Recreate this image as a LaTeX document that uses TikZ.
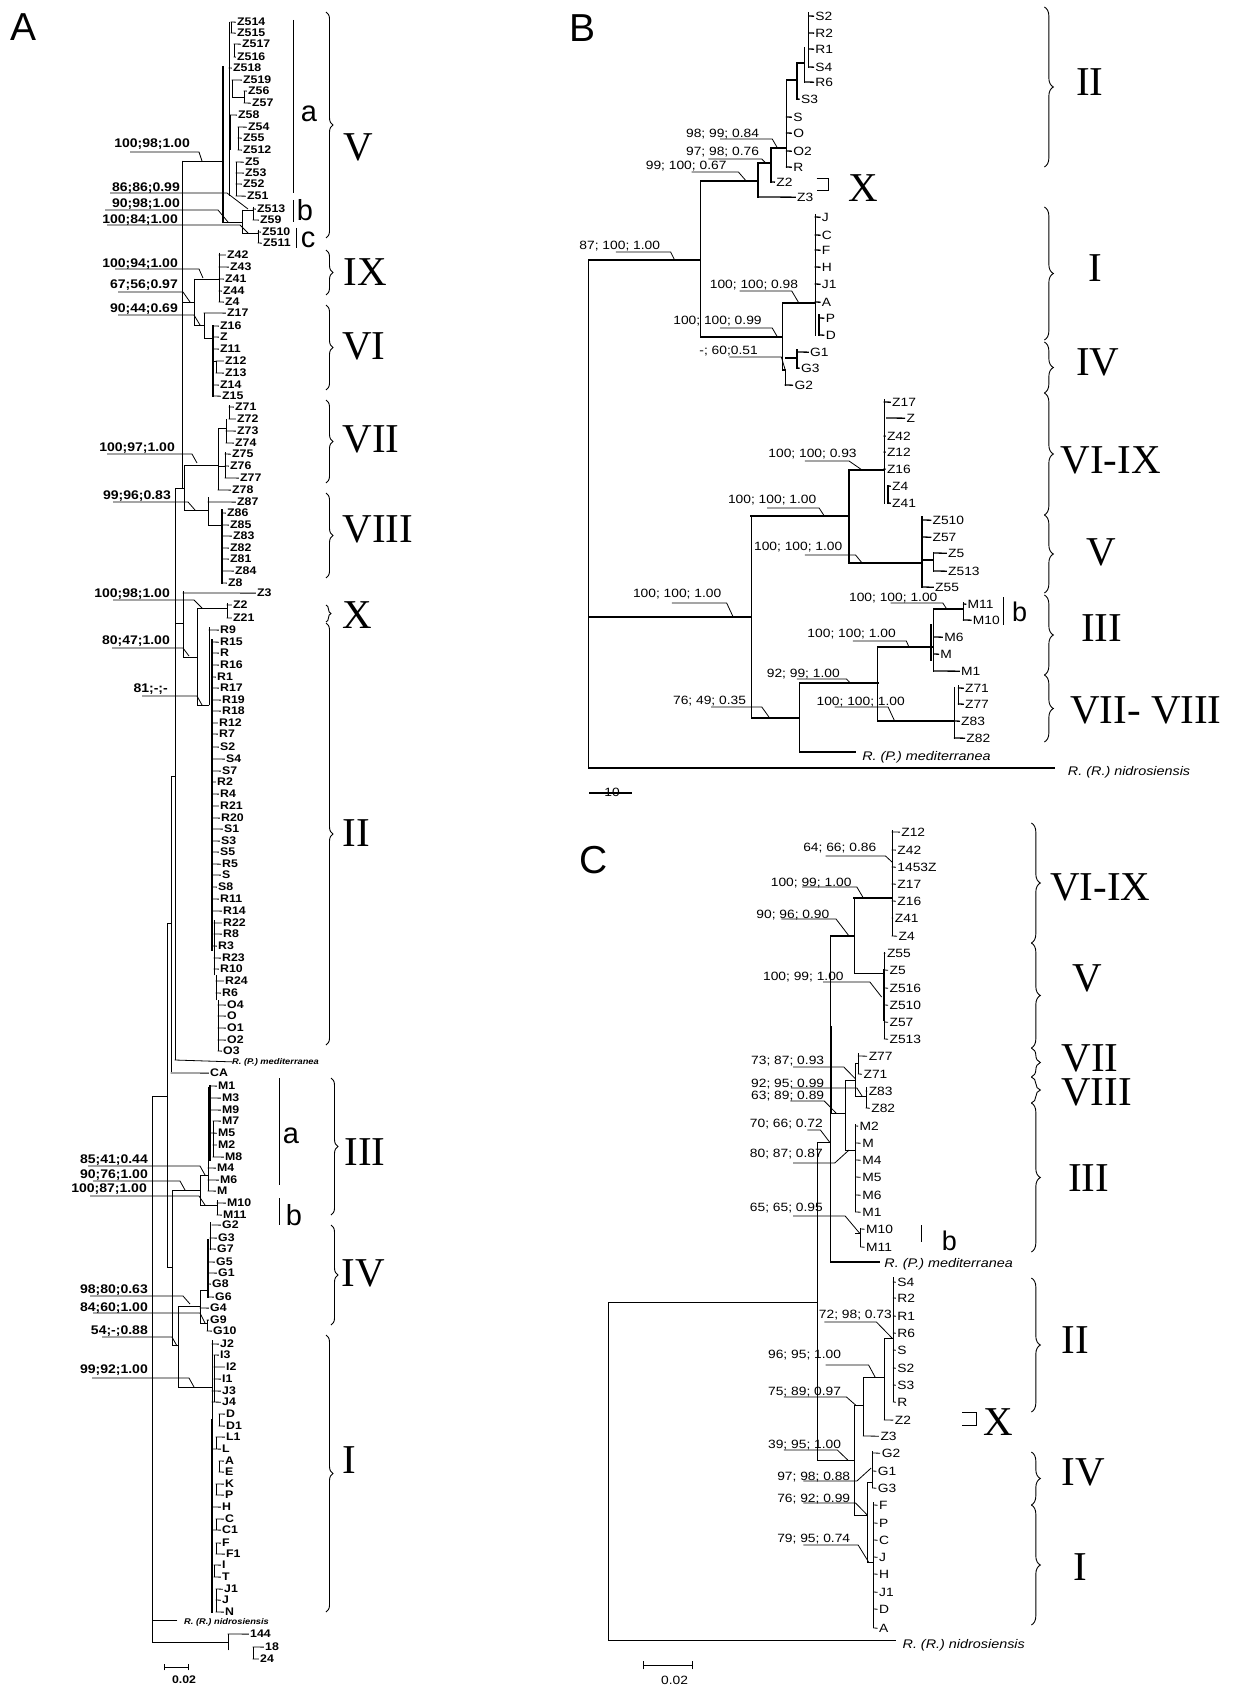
\documentclass[tikz,border=0pt]{standalone}
\usepackage{fontspec}
\setmainfont{Liberation Serif}
\setsansfont{Liberation Sans}
\newfontfamily\tipsansA[FakeStretch=1.12]{Liberation Sans}
\newfontfamily\sansBC[FakeStretch=1.15]{Liberation Sans}
\usetikzlibrary{decorations.pathreplacing}

\begin{document}
\begin{tikzpicture}[x=1pt, y=-1pt,
    br/.style={line width=0.8pt, line cap=rect},
    brB/.style={line width=1.3pt, line cap=rect},
    thk/.style={line width=1.9pt, line cap=rect},
    lead/.style={line width=0.8pt},
    brc/.style={decorate, decoration={brace, amplitude=#1}, line width=0.9pt},
    brc/.default=8pt,
    tipA/.style={font=\tipsansA\bfseries\fontsize{11}{12}\selectfont, anchor=base west, inner sep=0pt, yshift=-3.9pt},
    bootA/.style={font=\tipsansA\bfseries\fontsize{12.5}{14}\selectfont, anchor=base east, inner sep=0pt, yshift=-4.4pt},
    spA/.style={font=\tipsansA\bfseries\itshape\fontsize{8.3}{10}\selectfont, anchor=base west, inner sep=0pt, yshift=-3pt},
    tipB/.style={font=\sansBC\fontsize{12}{14}\selectfont, anchor=base west, inner sep=0pt, yshift=-4.3pt},
    bootB/.style={font=\sansBC\fontsize{12}{13}\selectfont, anchor=base east, inner sep=0pt, yshift=-4.2pt},
    spB/.style={font=\sansBC\itshape\fontsize{12.5}{14}\selectfont, anchor=base west, inner sep=0pt, yshift=-4.4pt},
    numA/.style={font=\fontsize{41}{41}\selectfont, inner sep=0pt},
    panel/.style={font=\sffamily\fontsize{39}{39}\selectfont, inner sep=0pt},
    sublet/.style={font=\sffamily\fontsize{29}{29}\selectfont, inner sep=0pt},
    sublet2/.style={font=\sffamily\fontsize{27}{27}\selectfont, inner sep=0pt},
    % panels B and C are measured on a squeezed grid, stretched back here
    panelBC/.style={shift={(560,0)}, xscale=1.302, shift={(-560,0)}},
]
    \useasboundingbox (0,0) rectangle (1240,1685);

    %%%%%%%%%%%%%%%% Panel A %%%%%%%%%%%%%%%%
    \node[panel] (pA) at (24,27) {A};

    % tips
    \foreach \tip/\xp/\xl/\y in {
        Z514/231/237/22, Z515/231/237/33, Z517/234/242/44, Z516/234/237/57, Z518/229/233/68,
        Z519/232/243/80, Z56/244/248/91, Z57/244/252/103, Z58/230/238/115, Z54/238/248/127,
        Z55/238/243/138, Z512/238/243/150, Z5/236/245/162, Z53/236/245/173, Z52/236/243/184,
        Z51/236/247/196, Z513/253/257/209, Z59/253/260/220, Z510/258/262/232, Z511/258/263/243,
        Z42/219/227/255, Z43/219/230/267, Z41/219/225/279, Z44/219/223/291, Z4/219/225/302,
        Z17/204/227/313, Z16/213/220/326, Z/213/220/337, Z11/213/220/349, Z12/216/225/361,
        Z13/216/225/373, Z14/213/220/385, Z15/213/222/396,
        Z71/229/235/407, Z72/229/237/419, Z73/226/237/431, Z74/226/235/443, Z75/225/232/454,
        Z76/225/230/466, Z77/225/240/478, Z78/218/232/490,
        Z87/208/237/502, Z86/222/227/513, Z85/222/230/525, Z83/222/233/536, Z82/222/230/548,
        Z81/222/230/559, Z84/222/235/571, Z8/222/228/583,
        Z3/183/257/593, Z2/227/233/605, Z21/227/233/618,
        R9/209/220/630, R15/212/220/642, R/212/220/653, R16/212/220/665, R1/212/217/677,
        R17/212/220/688, R19/212/222/700, R18/212/222/711, R12/212/219/723, R7/212/219/734,
        S2/213/220/747, S4/213/226/759, S7/213/222/771, R2/212/217/782, R4/212/220/794,
        R21/212/220/806, R20/212/221/818, S1/213/224/829, S3/213/221/841, S5/213/220/852,
        R5/213/222/864, S/213/222/875, S8/213/218/887, R11/213/220/899, R14/213/223/911,
        R22/214/223/923, R8/214/223/934, R3/213/218/946, R23/214/222/958, R10/214/220/969,
        R24/216/225/981, R6/216/222/993, O4/218/227/1005, O/218/227/1016, O1/218/227/1028,
        O2/218/227/1040, O3/218/223/1051,
        CA/171/210/1073,
        M1/210/218/1086, M3/210/222/1098, M9/210/222/1110, M7/213/222/1121, M5/210/218/1133,
        M2/213/218/1145, M8/213/225/1157, M4/208/217/1168, M6/208/220/1180, M/208/217/1191,
        M10/217/227/1203, M11/217/223/1215,
        G2/212/222/1225, G3/210/218/1238, G7/210/217/1249, G5/208/216/1262, G1/208/218/1273,
        G8/208/212/1284, G6/208/215/1297, G4/200/210/1308, G9/207/210/1320, G10/207/213/1331,
        J2/212/220/1344, I3/214/220/1355, I2/214/226/1367, I1/214/222/1379, J3/212/222/1391,
        J4/212/222/1402, D/219/226/1414, D1/219/226/1426, L1/216/226/1437, L/212/222/1449,
        A/219/225/1461, E/219/225/1472, K/216/225/1484, P/216/225/1495, H/213/222/1507,
        C/216/225/1519, C1/213/222/1530, F/216/222/1543, F1/216/226/1554, I/214/222/1565,
        T/214/222/1577, J1/216/224/1589, J/216/222/1600, N/216/225/1612,
        144/228/250/1634, 18/253/265/1647, 24/253/260/1659} {
        \node[tipA] (A-\tip) at (\xl,\y) {\tip};
        \draw[br] (\xp,\y) -- ([xshift=-1.5pt]A-\tip.west);
    }

    % vertical branches
    \foreach \x/\ya/\yb in {
        229/22/196, 231/22/33, 234/44/57, 232/80/97, 244/91/103, 230/115/150, 238/127/150,
        236/162/196, 242/210/233, 253/207/220, 258/230/243,
        219/253/302, 194/279/325, 204/313/338, 216/361/373,
        218/428/490, 229/405/419, 226/419/443, 225/452/478, 184/465/510, 208/497/525,
        182/161/488, 175/488/1060, 183/591/657, 197/608/705, 227/603/618, 171/776/1072,
        167/923/1267, 152/1096/1642, 172/1190/1345,
        209/627/705, 214/920/975, 216/975/1000, 218/1000/1051,
        200/1175/1205, 208/1087/1191, 213/1121/1157, 217/1200/1215,
        178/1306/1387, 200/1290/1323, 210/1222/1250, 207/1320/1331,
        212/1340/1612, 214/1355/1402, 219/1414/1426, 216/1437/1449, 219/1461/1472,
        216/1484/1495, 216/1519/1530, 216/1543/1554, 214/1565/1577, 216/1589/1612,
        228/1634/1650, 253/1647/1659}
        \draw[br] (\x,\ya) -- (\x,\yb);
    \foreach \x/\ya/\yb in {223/67/222, 213/326/396, 222/510/583, 212/640/950,
        210/1086/1160, 208/1240/1297, 212/1420/1612}
        \draw[thk] (\x,\ya) -- (\x,\yb);

    % horizontal branches
    \foreach \y/\xa/\xb in {
        161/182/223, 222/223/242, 210/242/253, 233/242/258, 97/232/244,
        279/194/219, 302/182/194, 325/194/204, 338/204/213, 361/213/216,
        465/184/218, 510/184/208, 525/208/222, 488/175/184, 428/218/226, 466/218/225,
        623/175/183, 657/183/197, 608/197/227, 705/197/209, 776/171/175, 923/167/171,
        1096/152/167, 1190/172/200, 1175/200/208, 1205/200/217, 1267/167/172,
        1345/172/178, 1306/178/200, 1290/200/208, 1323/200/207, 1387/178/212,
        1642/152/228}
        \draw[br] (\xa,\y) -- (\xb,\y);

    % outgroups
    \node[spA] (A-med) at (232,1061) {R. (P.) mediterranea};
    \draw[br] (175,1060) -- (A-med.west);
    \node[spA] (A-nid) at (184,1621) {R. (R.) nidrosiensis};
    \draw[br] (152,1620) -- (177,1620);

    % support values
    \foreach \txt/\tx/\ty/\ua/\ub/\uy/\nx/\ny [count=\i] in {
        100;98;1.00/190/143/130/199/152/202/161,
        86;86;0.99/180/187/110/227/193/248/209,
        90;98;1.00/180/203/105/218/210/228/222,
        100;84;1.00/178/219/107/240/225/248/233,
        100;94;1.00/178/263/115/199/269/203/278,
        67;56;0.97/178/284/118/183/292/190/302,
        90;44;0.69/178/308/118/194/315/200/325,
        100;97;1.00/175/447/107/192/454/197/463,
        99;96;0.83/171/495/113/188/502/195/510,
        100;98;1.00/170/593/113/194/600/202/608,
        80;47;1.00/170/640/112/183/648/189/656,
        81;-;-/168/688/142/197/696/202/705,
        85;41;0.44/148/1159/88/200/1166/205/1175,
        90;76;1.00/148/1174/93/180/1181/185/1190,
        100;87;1.00/147/1188/90/199/1196/205/1205,
        98;80;0.63/148/1289/90/183/1296/190/1304,
        84;60;1.00/148/1307/93/200/1313/205/1323,
        54;-;0.88/148/1330/102/172/1337/177/1346,
        99;92;1.00/148/1369/92/189/1378/194/1387} {
        \node[bootA] (bA\i) at (\tx,\ty) {\txt};
        \draw[lead] (\ua,\uy) -- (\ub,\uy) -- (\nx,\ny);
    }

    % clade braces
    \foreach \ya/\yb/\x in {12/238/326, 250/295/326, 305/390/326, 400/483/326, 493/578/326,
        623/1045/326, 1078/1215/331, 1225/1325/331, 1335/1612/326}
        \draw[brc=7pt] (\x,\ya) -- (\x,\yb);
    \draw[brc=5pt] (326,605) -- (326,622);
    \foreach \lab/\x/\y in {V/358/147, IX/365/272, VI/364/346, VII/371/439, VIII/378/529,
        X/357/615, II/356/833, III/365/1152, IV/363/1273, I/349/1460}
        \node[numA] (nA-\lab) at (\x,\y) {\lab};

    % subclade bars
    \draw[line width=1pt] (293,20) -- (293,193);
    \draw[line width=1pt] (293,200) -- (293,222);
    \draw[line width=1pt] (296,228) -- (296,248);
    \draw[line width=1pt] (279,1078) -- (279,1185);
    \draw[line width=1pt] (279,1198) -- (279,1225);
    \node[sublet] (sa1) at (309,114) {a};
    \node[sublet] (sb1) at (305,210) {b};
    \node[sublet] (sc1) at (308,240) {c};
    \node[sublet] (sa2) at (291,1136) {a};
    \node[sublet] (sb2) at (294,1215) {b};

    % scale bar
    \draw[br] (164,1667) -- (188,1667);
    \draw[br] (164,1664) -- (164,1670);
    \draw[br] (188,1664) -- (188,1670);
    \node[tipA, anchor=base, yshift=0pt] (sA) at (184,1680) {0.02};

    %%%%%%%%%%%%%%%% Panel B %%%%%%%%%%%%%%%%
    \begin{scope}[panelBC]
    \node[panel] (pB) at (577,28) {B};

    \foreach \tip/\xp/\xl/\y in {
        S2/751/756/16, R2/751/756/33, R1/751/756/49, S4/751/756/67, R6/748/756/82,
        S3/742/745/99, S/734/739/117, O/734/739/133, O2/734/739/151, R/734/739/167,
        Z2/722/726/182, Z3/712/742/197, J/756/761/217, C/756/761/235, F/756/761/250,
        H/756/761/267, J1/756/761/284, A/756/761/302, P/759/764/318, D/759/764/335,
        G1/742/752/352, G3/742/745/368, G2/733/740/385,
        Z17/809/815/402, Z/811/826/418, Z42/809/811/436, Z12/809/811/452, Z16/809/811/469,
        Z4/812/815/486, Z41/812/815/503, Z510/838/846/520, Z57/838/846/537, Z5/847/858/553,
        Z513/847/858/571, Z55/838/848/587, M11/870/873/604, M10/870/877/620, M6/847/855/637,
        M/847/852/654, M1/847/868/671, Z71/866/871/688, Z77/866/871/704, Z83/863/868/721,
        Z82/863/872/738} {
        \node[tipB] (B-\tip) at (\xl,\y) {\tip};
        \draw[brB] (\xp,\y) -- ([xshift=-1.5pt]B-\tip.west);
    }

    \foreach \x/\ya/\yb in {
        751/13/67, 748/48/82, 742/63/99, 734/80/167, 722/148/182, 712/163/197,
        668/181/337, 582/260/768, 731/303/370, 756/215/335, 759/315/335, 733/370/385,
        742/350/368, 809/400/503, 812/486/503, 782/470/563, 838/517/587, 847/553/571,
        870/603/620, 847/609/671, 804/647/721, 863/688/738, 866/686/704, 744/683/752,
        707/516/718}
        \draw[brB] (\x,\ya) -- (\x,\yb);
    \foreach \y/\xa/\xb in {
        63/742/748, 80/734/742, 148/722/734, 163/712/722, 260/582/668, 337/668/731,
        358/733/742, 370/731/733, 470/782/809, 563/782/838, 560/838/847, 609/847/870,
        647/804/847, 721/804/863, 718/707/744, 617/582/707}
        \draw[brB] (\xa,\y) -- (\xb,\y);
    \foreach \y/\xa/\xb in {181/668/712, 303/731/756, 516/707/782, 683/744/804}
        \draw[thk] (\xa,\y) -- (\xb,\y);
    \draw[thk] (845,625) -- (845,660);

    \node[spB] (B-med) at (792,756) {R. (P.) mediterranea};
    \draw[brB] (744,752) -- (787,752);
    \node[spB] (B-nid) at (950,771) {R. (R.) nidrosiensis};
    \draw[brB] (582,768) -- (940,768);

    \foreach \txt/\tx/\ty/\ua/\ub/\uy/\nx/\ny [count=\i] in {
        98; 99; 0.84/713/133/683/723/139/727/148,
        97; 98; 0.76/713/151/674/715/159/718/163,
        99; 100; 0.67/688/165/661/697/172/703/181,
        87; 100; 1.00/637/245/603/645/252/648/260,
        100; 100; 0.98/743/284/698/738/291/743/302,
        100; 100; 0.99/715/320/683/723/328/727/337,
        -; 60;0.51/712/350/690/730/357/733/370,
        100; 100; 0.93/788/453/748/782/461/792/470,
        100; 100; 1.00/757/499/719/759/508/763/516,
        100; 100; 1.00/777/546/748/787/555/792/563,
        100; 100; 1.00/684/593/646/688/603/693/617,
        100; 100; 1.00/850/597/814/854/603/857/609,
        100; 100; 1.00/818/633/785/826/641/828/647,
        92; 99; 1.00/775/673/742/780/679/783/683,
        100; 100; 1.00/825/701/771/812/707/817/721,
        76; 49; 0.35/703/700/676/715/707/721/718} {
        \node[bootB] (bB\i) at (\tx,\ty) {\txt};
        \draw[lead] (\ua,\uy) -- (\ub,\uy) -- (\nx,\ny);
    }

    \foreach \ya/\yb in {7/167, 207/340, 342/393, 393/515, 515/593, 595/675, 675/742}
        \draw[brc=9pt] (932,\ya) -- (932,\yb);
    \draw[line width=0.8pt] (757,178) -- (766,178) -- (766,190) -- (757,190);
    \foreach \lab/\x/\y in {II/967/82, X/793/188, I/971/268, IV/973/362, VI-IX/983/460,
        V/976/552, III/976/628, VII- VIII/1010/710}
        \node[numA] (nB-\lab) at (\x,\y) {\lab};

    \draw[line width=1pt] (901,597) -- (901,625);
    \node[sublet2] (sbB) at (913,612) {b};

    \draw[brB] (583,793) -- (615,793);
    \node[tipB, anchor=base, yshift=0pt] (sB) at (600,792) {10};
    \end{scope}

    %%%%%%%%%%%%%%%% Panel C %%%%%%%%%%%%%%%%
    \begin{scope}[panelBC]
    \node[panel] (pC) at (586,860) {C};

    \foreach \tip/\xp/\xl/\y in {
        Z12/815/822/832, Z42/815/819/850, 1453Z/815/819/867, Z17/815/819/884, Z16/815/819/901,
        Z41/815/817/918, Z4/815/820/936, Z55/809/811/953, Z5/809/813/970, Z516/809/813/988,
        Z510/809/813/1005, Z57/809/813/1022, Z513/809/813/1039,
        Z77/789/797/1056, Z71/789/793/1074, Z83/795/797/1091, Z82/795/799/1108,
        M2/787/790/1126, M/787/792/1143, M4/787/792/1160, M5/787/792/1177, M6/787/792/1195,
        M1/787/792/1212, M10/791/795/1229, M11/791/795/1247,
        S4/816/819/1282, R2/816/819/1298, R1/816/819/1316, R6/816/819/1333, S/816/819/1350,
        S2/816/819/1368, S3/816/819/1385, R/816/819/1402, Z2/809/817/1420, Z3/793/806/1436,
        G2/800/807/1453, G1/800/804/1471, G3/800/804/1488,
        F/801/805/1505, P/801/805/1523, C/801/805/1540, J/801/805/1557, H/801/805/1574,
        J1/801/805/1592, D/801/805/1609, A/801/805/1628} {
        \node[tipB] (C-\tip) at (\xl,\y) {\tip};
        \draw[br] (\xp,\y) -- ([xshift=-1.5pt]C-\tip.west);
    }

    \foreach \x/\ya/\yb in {
        815/830/936, 786/898/973, 809/952/1039, 768/936/1262, 758/1142/1460, 597/1302/1640,
        789/1053/1074, 787/1063/1096, 795/1087/1108, 779/1080/1150, 787/1124/1212,
        791/1228/1247, 816/1277/1402, 809/1338/1420, 793/1377/1436, 786/1405/1515,
        800/1451/1488, 796/1482/1562, 801/1502/1628}
        \draw[br] (\x,\ya) -- (\x,\yb);
    \foreach \y/\xa/\xb in {
        973/786/809, 1063/787/789, 1080/779/787, 1096/787/795, 1113/768/779, 1142/758/768,
        1150/779/787, 1233/787/791, 1302/597/758, 1338/809/816, 1377/793/809, 1405/786/793,
        1460/758/786, 1482/796/800, 1515/786/796, 1562/796/801}
        \draw[br] (\xa,\y) -- (\xb,\y);
    \draw[thk] (786,898) -- (815,898);
    \draw[thk] (768,936) -- (786,936);
    \draw[thk] (768,1027) -- (768,1113);
    \draw[thk] (809,970) -- (809,1020);

    \node[spB] (C-med) at (809,1263) {R. (P.) mediterranea};
    \draw[thk] (768,1262) -- (805,1262);
    \node[spB] (C-nid) at (823,1644) {R. (R.) nidrosiensis};
    \draw[br] (597,1640) -- (818,1640);

    \foreach \txt/\tx/\ty/\ua/\ub/\uy/\nx/\ny [count=\i] in {
        64; 66; 0.86/803/847/764/810/856/815/862,
        100; 99; 1.00/784/882/746/788/887/793/898,
        90; 96; 0.90/767/914/730/772/919/782/936,
        100; 99; 1.00/778/976/762/798/982/807/997,
        73; 87; 0.93/763/1060/739/778/1067/787/1079,
        92; 95; 0.99/763/1083/738/788/1088/792/1096,
        63; 89; 0.89/763/1095/737/763/1101/772/1113,
        70; 66; 0.72/762/1123/750/760/1130/767/1142,
        80; 87; 0.87/762/1153/739/771/1163/782/1150,
        65; 65; 0.95/762/1207/739/779/1216/790/1233,
        72; 98; 0.73/815/1314/763/803/1322/815/1338,
        96; 95; 1.00/776/1354/764/797/1365/802/1377,
        75; 89; 0.97/776/1391/732/780/1397/787/1405,
        39; 95; 1.00/776/1444/732/773/1450/781/1460,
        97; 98; 0.88/783/1476/747/788/1481/799/1468,
        76; 92; 0.99/783/1498/747/787/1503/796/1515,
        79; 95; 0.74/783/1538/747/789/1545/797/1562} {
        \node[bootB] (bC\i) at (\tx,\ty) {\txt};
        \draw[lead] (\ua,\uy) -- (\ub,\uy) -- (\nx,\ny);
    }

    \foreach \ya/\yb in {823/943, 943/1048, 1048/1077, 1077/1103, 1103/1252, 1278/1412,
        1452/1505, 1505/1625}
        \draw[brc=9pt] (922,\ya) -- (922,\yb);
    \draw[line width=0.8pt] (869,1412) -- (880,1412) -- (880,1425) -- (869,1425);
    \foreach \lab/\x/\y in {VI-IX/975/887, V/965/978, VII/967/1058, VIII/972/1092,
        III/966/1178, II/956/1340, X/897/1422, IV/962/1472, I/960/1567}
        \node[numA] (nC-\lab) at (\x,\y) {\lab};

    \draw[line width=1pt] (838,1225) -- (838,1242);
    \node[sublet2] (sbC) at (859,1241) {b};

    \draw[br] (624,1665) -- (662,1665);
    \draw[br] (624,1661) -- (624,1669);
    \draw[br] (662,1661) -- (662,1669);
    \node[tipB, anchor=base, yshift=0pt] (sC) at (648,1680) {0.02};
    \end{scope}

\end{tikzpicture}
\end{document}
